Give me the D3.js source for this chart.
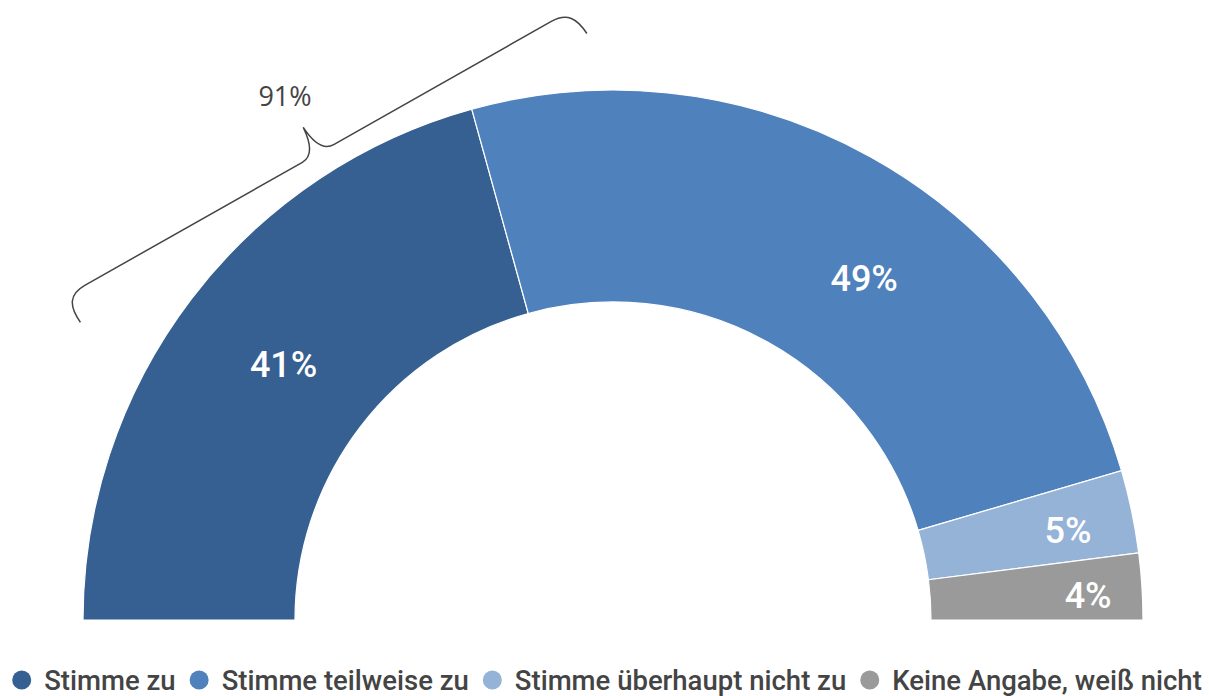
<!DOCTYPE html>
<html>
<head>
<meta charset="utf-8">
<script src="https://cdn.jsdelivr.net/npm/d3@7"></script>
<style>
  body { margin: 0; background: #fff; }
  svg { display: block; font-family: Roboto, "Noto Sans", sans-serif; }
</style>
</head>
<body>
<svg id="chart" width="1209" height="696"></svg>
<script>
// data
var categories = ["Stimme zu", "Stimme teilweise zu", "Stimme überhaupt nicht zu", "Keine Angabe, weiß nicht"];
var values = [41, 49, 5, 4];
var colors = ["#376092", "#4f81bd", "#95b3d7", "#9a9a9a"];
var bracketLabel = "91%";

var width = 1209, height = 696;
var cx = 613, cy = 620;
var outerR = 530, innerR = 318;

// label nudges from the slice centroid (layout only)
var labelShift = [[8, 1], [45, 29], [40, -3], [52, 2]];

var svg = d3.select("#chart");

var pie = d3.pie()
  .sort(null)
  .value(function(d) { return d; })
  .startAngle(-Math.PI / 2)
  .endAngle(Math.PI / 2);

var arc = d3.arc()
  .innerRadius(innerR)
  .outerRadius(outerR);

var arcs = pie(values);

var g = svg.append("g").attr("transform", "translate(" + cx + "," + cy + ")");

g.selectAll("path.slice")
  .data(arcs)
  .enter().append("path")
  .attr("class", "slice")
  .attr("d", arc)
  .attr("fill", function(d, i) { return colors[i]; })
  .attr("stroke", "#fff")
  .attr("stroke-width", 1.2);

g.selectAll("text.val")
  .data(arcs)
  .enter().append("text")
  .attr("class", "val")
  .attr("x", function(d, i) { return arc.centroid(d)[0] + labelShift[i][0]; })
  .attr("y", function(d, i) { return arc.centroid(d)[1] + labelShift[i][1]; })
  .attr("dy", "0.36em")
  .attr("text-anchor", "middle")
  .attr("fill", "#fff")
  .attr("font-size", 36)
  .attr("font-weight", 500)
  .text(function(d) { return d.data + "%"; });

// curly bracket over the upper-left part of the ring
var braceAngle = 57.7 * Math.PI / 180;   // from the left, clockwise
var braceR = outerR + 22;
var bx = -Math.cos(braceAngle) * braceR, by = -Math.sin(braceAngle) * braceR;
var H = 284, d = 30, t = 30;
var bracePath = [
  "M", -H - 6, d,
  "C", -H - 8, 10, -H - 2, 0, -H + 16, 0,
  "L", -18, 0,
  "Q", -2, 0, 0, -t,
  "Q", 2, 0, 18, 0,
  "L", H - 16, 0,
  "C", H + 2, 0, H + 8, 10, H + 9, d - 2
].join(" ");

g.append("path")
  .attr("transform", "translate(" + bx + "," + by + ") rotate(-29.5)")
  .attr("d", bracePath)
  .attr("fill", "none")
  .attr("stroke", "#444")
  .attr("stroke-width", 1.5);

svg.append("text")
  .attr("x", 285)
  .attr("y", 96)
  .attr("dy", "0.36em")
  .attr("text-anchor", "middle")
  .attr("fill", "#444")
  .attr("font-family", "'Open Sans', sans-serif")
  .attr("font-size", 27)
  .attr("font-weight", 500)
  .text(bracketLabel);

// legend
var legend = svg.append("g").attr("transform", "translate(0,680)");
var items = legend.selectAll("g.item")
  .data(categories)
  .enter().append("g")
  .attr("class", "item");

items.append("circle")
  .attr("r", 9.5)
  .attr("cx", 9.5)
  .attr("fill", function(d, i) { return colors[i]; });

items.append("text")
  .attr("x", 32)
  .attr("dy", "0.36em")
  .attr("fill", "#444")
  .attr("font-size", 27.5)
  .attr("font-weight", 500)
  .text(function(d) { return d; });

var xs = [], pos = 0;
items.each(function() {
  xs.push(pos);
  pos += 32 + this.querySelector("text").getComputedTextLength() + 14;
});
var total = pos - 14;
var startX = 607 - total / 2;
items.attr("transform", function(d, i) { return "translate(" + (startX + xs[i]) + ",0)"; });
</script>
</body>
</html>
